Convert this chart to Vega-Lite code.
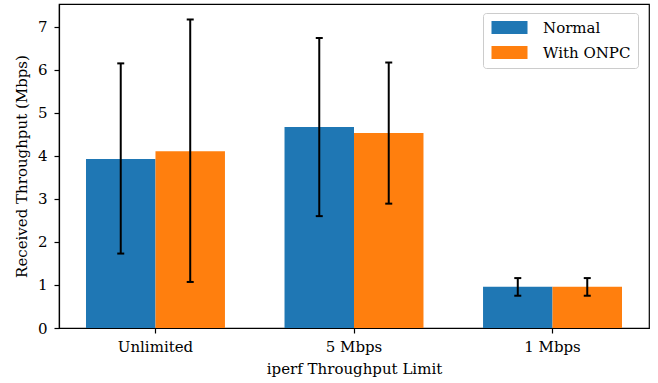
{
  "$schema": "https://vega.github.io/schema/vega-lite/v6.json",
  "width": 590,
  "height": 324,
  "autosize": {"type": "none"},
  "padding": {"left": 59, "top": 4, "right": 9, "bottom": 55},
  "config": {
    "font": "DejaVu Serif",
    "view": {"stroke": "black", "strokeWidth": 1.2},
    "axis": {
      "domainColor": "black",
      "domainWidth": 1.2,
      "tickColor": "black",
      "tickWidth": 1.2,
      "tickSize": 5,
      "labelColor": "black",
      "titleColor": "black",
      "labelFont": "DejaVu Serif",
      "titleFont": "DejaVu Serif",
      "labelFontSize": 15,
      "titleFontSize": 15,
      "titleFontWeight": "normal",
      "grid": false
    }
  },
  "data": {
    "values": [
      {"limit": "Unlimited", "mode": "Normal", "value": 3.93, "lower": 1.73, "upper": 6.15},
      {"limit": "Unlimited", "mode": "With ONPC", "value": 4.11, "lower": 1.07, "upper": 7.17},
      {"limit": "5 Mbps", "mode": "Normal", "value": 4.67, "lower": 2.60, "upper": 6.74},
      {"limit": "5 Mbps", "mode": "With ONPC", "value": 4.53, "lower": 2.89, "upper": 6.17},
      {"limit": "1 Mbps", "mode": "Normal", "value": 0.96, "lower": 0.75, "upper": 1.16},
      {"limit": "1 Mbps", "mode": "With ONPC", "value": 0.96, "lower": 0.75, "upper": 1.16}
    ]
  },
  "encoding": {
    "x": {
      "field": "limit",
      "type": "nominal",
      "sort": ["Unlimited", "5 Mbps", "1 Mbps"],
      "scale": {"paddingInner": 0.3, "paddingOuter": 0.136},
      "axis": {"title": "iperf Throughput Limit", "labelAngle": 0, "labelPadding": 6, "titlePadding": 7}
    },
    "xOffset": {
      "field": "mode",
      "type": "nominal",
      "sort": ["Normal", "With ONPC"],
      "scale": {"paddingInner": 0, "paddingOuter": 0}
    }
  },
  "layer": [
    {
      "mark": {"type": "bar"},
      "encoding": {
        "y": {
          "field": "value",
          "type": "quantitative",
          "scale": {"domain": [0, 7.53], "nice": false, "zero": true},
          "axis": {"title": "Received Throughput (Mbps)", "values": [0, 1, 2, 3, 4, 5, 6, 7], "format": "d", "labelPadding": 7, "titlePadding": 8}
        },
        "color": {
          "field": "mode",
          "type": "nominal",
          "sort": ["Normal", "With ONPC"],
          "scale": {"range": ["#1f77b4", "#ff7f0e"]},
          "legend": {
            "title": null,
            "orient": "none",
            "legendX": 424,
            "legendY": 9,
            "labelFont": "DejaVu Serif",
            "labelFontSize": 15,
            "labelColor": "black",
            "symbolType": "M-2.77,-1H2.77V1H-2.77Z",
            "symbolSize": 169,
            "symbolStrokeWidth": 0,
            "symbolOpacity": 1,
            "symbolOffset": 12,
            "labelOffset": 26,
            "rowPadding": 9,
            "padding": 7,
            "strokeColor": "#cccccc",
            "cornerRadius": 3,
            "fillColor": "white"
          }
        }
      }
    },
    {
      "mark": {"type": "rule", "strokeWidth": 2, "color": "black"},
      "encoding": {
        "y": {"field": "lower", "type": "quantitative"},
        "y2": {"field": "upper"}
      }
    },
    {
      "mark": {"type": "tick", "orient": "horizontal", "size": 7, "thickness": 2, "color": "black", "opacity": 1},
      "encoding": {"y": {"field": "lower", "type": "quantitative"}}
    },
    {
      "mark": {"type": "tick", "orient": "horizontal", "size": 7, "thickness": 2, "color": "black", "opacity": 1},
      "encoding": {"y": {"field": "upper", "type": "quantitative"}}
    }
  ]
}
